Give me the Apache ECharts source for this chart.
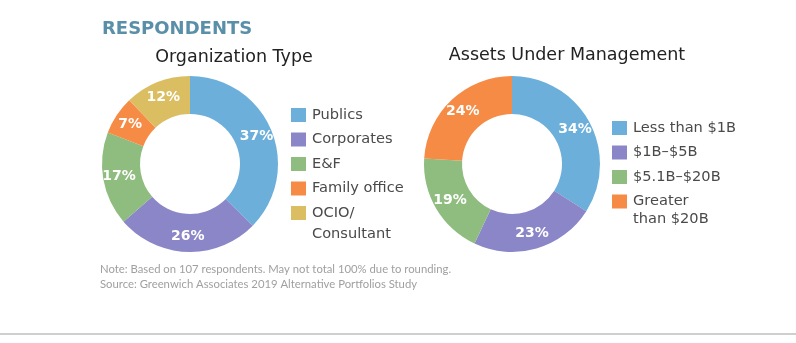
<!DOCTYPE html>
<html>
<head>
<meta charset="utf-8">
<script src="https://cdn.jsdelivr.net/npm/echarts@6/dist/echarts.min.js"></script>
<style>
html,body{margin:0;padding:0;background:#fff;}
#chart{width:796px;height:343px;}
</style>
</head>
<body>
<div id="chart"></div>
<script>
const mainTitle = 'RESPONDENTS';
const orgTitle = 'Organization Type';
const orgCategories = ['Publics', 'Corporates', 'E&F', 'Family office', 'OCIO/\nConsultant'];
const orgValues = [37, 26, 17, 7, 12];
const orgColors = ['#6cafda', '#8b86c7', '#8fbc7f', '#f68b45', '#dbbd62'];

const aumTitle = 'Assets Under Management';
const aumCategories = ['Less than $1B', '$1B–$5B', '$5.1B–$20B', 'Greater\nthan $20B'];
const aumValues = [34, 23, 19, 24];
const aumColors = ['#6cafda', '#8b86c7', '#8fbc7f', '#f68b45'];

const noteLines = [
  'Note: Based on 107 respondents. May not total 100% due to rounding.',
  'Source: Greenwich Associates 2019 Alternative Portfolios Study'
];

const FONT = '"DejaVu Sans", sans-serif';
const NOTE_FONT = 'Lato, sans-serif';

function pieSeries(name, cats, vals, colors, cx) {
  return {
    type: 'pie',
    name: name,
    center: [cx, 164],
    radius: [50, 88],
    startAngle: 90,
    clockwise: true,
    avoidLabelOverlap: false,
    silent: true,
    label: {
      show: true,
      position: 'inside',
      formatter: '{c}%',
      color: '#fff',
      fontFamily: FONT,
      fontSize: 14,
      fontWeight: 600
    },
    labelLine: { show: false },
    itemStyle: { borderWidth: 0 },
    data: cats.map((c, i) => ({ name: c, value: vals[i], itemStyle: { color: colors[i] } }))
  };
}

function legendGraphics(cats, colors, x, y0, step, lineH) {
  const els = [];
  let y = y0;
  cats.forEach((c, i) => {
    els.push({
      type: 'rect',
      shape: { x: x, y: y - 7, width: 15, height: 14 },
      style: { fill: colors[i] }
    });
    const lines = c.split('\n');
    lines.forEach((ln, j) => {
      els.push({
        type: 'text',
        x: x + 21,
        y: y + j * lineH,
        style: {
          text: ln, fill: '#4a4a4a', font: '14.6px ' + FONT,
          verticalAlign: 'middle'
        }
      });
    });
    y += step;
  });
  return els;
}

const chart = echarts.init(document.getElementById('chart'));
const graphics = [];
graphics.push({
  type: 'text', x: 102, y: 29,
  style: { text: mainTitle, fill: '#5a8fa9', font: 'bold 18px ' + FONT, verticalAlign: 'middle' }
});
graphics.push({
  type: 'text', x: 234, y: 57,
  style: { text: orgTitle, fill: '#222', font: '17.5px ' + FONT, align: 'center', verticalAlign: 'middle' }
});
graphics.push({
  type: 'text', x: 567, y: 55,
  style: { text: aumTitle, fill: '#222', font: '17.5px ' + FONT, align: 'center', verticalAlign: 'middle' }
});
noteLines.forEach((t, i) => {
  graphics.push({
    type: 'text', x: 100, y: 269 + i * 15,
    style: { text: t, fill: '#a0a0a0', font: '11.3px ' + NOTE_FONT, verticalAlign: 'middle' }
  });
});
graphics.push({
  type: 'rect', shape: { x: 0, y: 333, width: 796, height: 2 },
  style: { fill: '#cfcfcf' }
});
legendGraphics(orgCategories, orgColors, 291, 115, 24.5, 21).forEach(e => graphics.push(e));
legendGraphics(aumCategories, aumColors, 612, 128, 24.5, 18).forEach(e => graphics.push(e));

chart.setOption({
  animation: false,
  backgroundColor: '#fff',
  series: [
    pieSeries(orgTitle, orgCategories, orgValues, orgColors, 190),
    pieSeries(aumTitle, aumCategories, aumValues, aumColors, 512)
  ],
  graphic: { elements: graphics }
});
</script>
</body>
</html>
